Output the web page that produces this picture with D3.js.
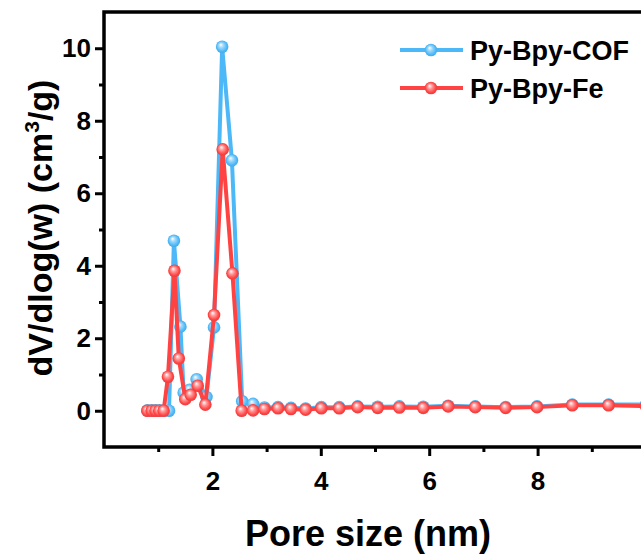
<!DOCTYPE html>
<html>
<head>
<meta charset="utf-8">
<script src="https://cdn.jsdelivr.net/npm/d3@7"></script>
<style>
  html, body { margin: 0; padding: 0; background: #fff; }
  svg text { font-family: "Liberation Sans", Arial, sans-serif; font-weight: bold; fill: #000; }
</style>
</head>
<body>
<svg id="chart" width="641" height="557"></svg>
<script>
(function () {

    // Data
    const poreCOF = [0.80, 0.88, 0.95, 1.02, 1.10, 1.20, 1.29, 1.41, 1.47, 1.58, 1.71, 1.89, 2.03, 2.18, 2.36, 2.55, 2.75,
        2.96, 3.21, 3.45, 3.72, 4.01, 4.34, 4.68, 5.05, 5.45, 5.89, 6.35, 6.85, 7.41, 7.99, 8.64, 9.31, 10.0];
    const dvCOF = [0.01, 0.01, 0.01, 0.01, 0.01, 0.00, 4.69, 2.32, 0.50, 0.58, 0.87, 0.38, 2.30, 10.04, 6.91, 0.26, 0.19,
        0.09, 0.10, 0.08, 0.06, 0.10, 0.10, 0.12, 0.11, 0.12, 0.11, 0.14, 0.12, 0.10, 0.12, 0.17, 0.17, 0.17];

    const poreFe = [0.80, 0.88, 0.95, 1.02, 1.10, 1.18, 1.30, 1.38, 1.50, 1.60, 1.73, 1.87, 2.03, 2.19, 2.37, 2.54, 2.75,
        2.96, 3.21, 3.45, 3.72, 4.01, 4.34, 4.68, 5.05, 5.45, 5.89, 6.35, 6.85, 7.41, 7.99, 8.64, 9.31, 10.0];
    const dvFe = [0.00, 0.00, 0.00, 0.00, 0.00, 0.94, 3.86, 1.44, 0.32, 0.44, 0.69, 0.17, 2.64, 7.21, 3.79, 0.00, 0.01,
        0.05, 0.07, 0.05, 0.03, 0.07, 0.07, 0.10, 0.08, 0.09, 0.08, 0.12, 0.10, 0.08, 0.10, 0.15, 0.15, 0.13];

    const seriesNames = ["Py-Bpy-COF", "Py-Bpy-Fe"];
    const seriesColors = ["#4db8f8", "#ff4343"];
    const xMajor = [2, 4, 6, 8];
    const xMinor = [1, 3, 5, 7, 9];
    const yMajor = [0, 2, 4, 6, 8, 10];
    const yMinor = [1, 3, 5, 7, 9];

    // Layout
    const left = 104, right = 646, top = 12, bottom = 447;
    const markerR = 6.3;

    const x = d3.scaleLinear().domain([0, 10]).range([left, right]);
    const y = d3.scaleLinear().domain([-1, 11]).range([bottom, top]);

    const svg = d3.select("#chart");

    // sphere-like marker gradients
    const defs = svg.append("defs");
    seriesColors.forEach((c, i) => {
        const g = defs.append("radialGradient")
            .attr("id", "ball" + i)
            .attr("cx", "50%").attr("cy", "50%").attr("r", "55%")
            .attr("fx", "38%").attr("fy", "32%");
        g.append("stop").attr("offset", "0%").attr("stop-color", "#ffffff");
        g.append("stop").attr("offset", "35%").attr("stop-color", d3.interpolateRgb("#ffffff", c)(0.55));
        g.append("stop").attr("offset", "75%").attr("stop-color", c);
        g.append("stop").attr("offset", "100%").attr("stop-color", d3.color(c).darker(0.3));
    });

    defs.append("clipPath").attr("id", "plotClip")
        .append("rect")
        .attr("x", left).attr("y", top)
        .attr("width", right - left).attr("height", bottom - top);

    // Series
    const series = [
        { name: seriesNames[0], color: seriesColors[0], pts: poreCOF.map((p, i) => [p, dvCOF[i]]) },
        { name: seriesNames[1], color: seriesColors[1], pts: poreFe.map((p, i) => [p, dvFe[i]]) }
    ];

    const line = d3.line()
        .x((d) => x(d[0]))
        .y((d) => y(d[1]));

    const plot = svg.append("g").attr("clip-path", "url(#plotClip)");

    series.forEach((s, i) => {
        plot.append("path")
            .datum(s.pts)
            .attr("d", line)
            .attr("fill", "none")
            .attr("stroke", s.color)
            .attr("stroke-width", 4)
            .attr("stroke-linejoin", "round");

        plot.selectAll(".pt" + i)
            .data(s.pts)
            .enter().append("circle")
            .attr("class", "pt" + i)
            .attr("cx", (d) => x(d[0]))
            .attr("cy", (d) => y(d[1]))
            .attr("r", markerR)
            .attr("fill", "url(#ball" + i + ")");
    });

    // Axes
    const axisG = svg.append("g");

    const xAxis = axisG.append("g")
        .attr("transform", "translate(0," + bottom + ")")
        .call(d3.axisBottom(x).tickValues(xMajor).tickSize(9).tickPadding(13).tickFormat(d3.format("d")));
    xAxis.select(".domain").remove();
    xAxis.selectAll(".tick line").attr("stroke", "#000").attr("stroke-width", 3);
    xAxis.selectAll("text").attr("font-size", 26).attr("dy", "0.8em");

    axisG.append("g")
        .attr("transform", "translate(0," + bottom + ")")
        .call(d3.axisBottom(x).tickValues(xMinor).tickSize(5).tickFormat(""))
        .call((g) => g.select(".domain").remove())
        .selectAll(".tick line").attr("stroke", "#000").attr("stroke-width", 3);

    const yAxis = axisG.append("g")
        .attr("transform", "translate(" + left + ",0)")
        .call(d3.axisLeft(y).tickValues(yMajor).tickSize(9).tickPadding(4).tickFormat(d3.format("d")));
    yAxis.select(".domain").remove();
    yAxis.selectAll(".tick line").attr("stroke", "#000").attr("stroke-width", 3);
    yAxis.selectAll("text").attr("font-size", 26);

    axisG.append("g")
        .attr("transform", "translate(" + left + ",0)")
        .call(d3.axisLeft(y).tickValues(yMinor).tickSize(5).tickFormat(""))
        .call((g) => g.select(".domain").remove())
        .selectAll(".tick line").attr("stroke", "#000").attr("stroke-width", 3);

    // Frame
    svg.append("rect")
        .attr("x", left).attr("y", top)
        .attr("width", right - left).attr("height", bottom - top)
        .attr("fill", "none")
        .attr("stroke", "#000")
        .attr("stroke-width", 3.5);

    // Axis titles
    svg.append("text")
        .attr("x", 368)
        .attr("y", 546)
        .attr("text-anchor", "middle")
        .attr("font-size", 36)
        .text("Pore size (nm)");

    const yTitle = svg.append("text")
        .attr("transform", "translate(52,228) rotate(-90)")
        .attr("text-anchor", "middle")
        .attr("font-size", 34);
    yTitle.append("tspan").text("dV/dlog(w) (cm");
    yTitle.append("tspan").attr("font-size", 21).attr("dy", -13).text("3");
    yTitle.append("tspan").attr("dy", 13).text("/g)");

    // Legend
    const legend = svg.append("g");
    series.forEach((s, i) => {
        const ly = 50 + i * 38;
        legend.append("line")
            .attr("x1", 400).attr("x2", 463)
            .attr("y1", ly).attr("y2", ly)
            .attr("stroke", s.color).attr("stroke-width", 4);
        legend.append("circle")
            .attr("cx", 431).attr("cy", ly).attr("r", markerR)
            .attr("fill", "url(#ball" + i + ")");
        legend.append("text")
            .attr("x", 470).attr("y", ly + 10)
            .attr("font-size", 27)
            .text(s.name);
    });
})();
</script>
</body>
</html>
